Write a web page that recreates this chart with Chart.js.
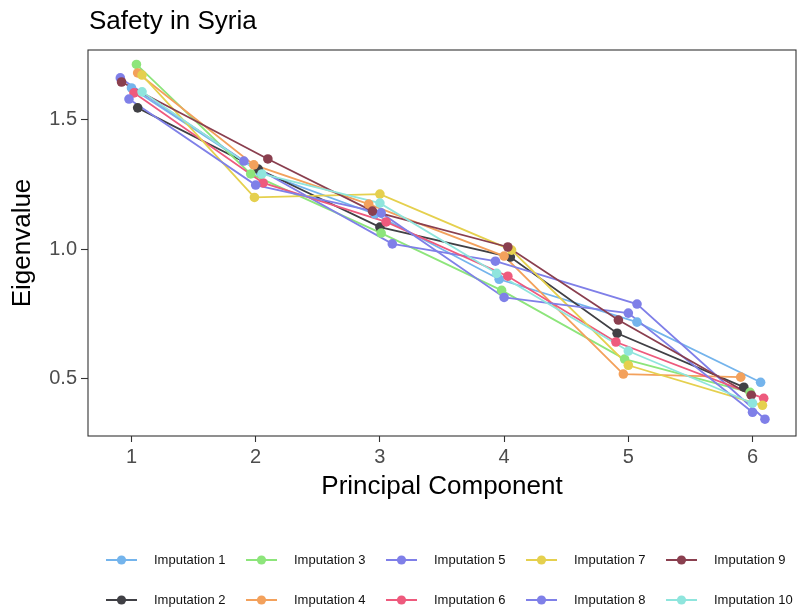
<!DOCTYPE html>
<html>
<head>
<meta charset="utf-8">
<script src="https://cdn.jsdelivr.net/npm/chart.js@4.4.1/dist/chart.umd.min.js"></script>
<style>
  html, body { margin: 0; padding: 0; background: #fff; }
  canvas { display: block; }
</style>
</head>
<body>
<canvas id="chart" width="798" height="614"></canvas>
<script>
const xTicks = [1, 2, 3, 4, 5, 6];
const yTicks = [0.5, 1.0, 1.5];

const labels = ['Imputation 1', 'Imputation 2', 'Imputation 3', 'Imputation 4', 'Imputation 5',
                'Imputation 6', 'Imputation 7', 'Imputation 8', 'Imputation 9', 'Imputation 10'];
const colors = ['#74b4ec', '#404045', '#8de57b', '#f3a15c', '#7f7fe8',
                '#ee5a7d', '#e5d04e', '#7f80e8', '#8a3f4f', '#8fe5dd'];

// eigenvalue per principal component, and the jittered x position
const eig1  = [1.624, 1.300, 1.136, 0.883, 0.717, 0.484];
const pos1  = [1.00, 2.03, 2.96, 3.96, 5.07, 6.065];
const eig2  = [1.547, 1.310, 1.085, 0.969, 0.674, 0.465];
const pos2  = [1.05, 2.02, 3.00, 4.05, 4.91, 5.93];
const eig3  = [1.715, 1.291, 1.062, 0.840, 0.574, 0.445];
const pos3  = [1.04, 1.96, 3.01, 3.98, 4.97, 5.98];
const eig4  = [1.682, 1.326, 1.174, 0.973, 0.516, 0.504];
const pos4  = [1.05, 1.985, 2.91, 4.00, 4.96, 5.905];
const eig5  = [1.663, 1.341, 1.020, 0.953, 0.787, 0.341];
const pos5  = [0.91, 1.905, 3.10, 3.93, 5.07, 6.10];
const eig6  = [1.605, 1.256, 1.105, 0.895, 0.640, 0.422];
const pos6  = [1.02, 2.06, 3.05, 4.03, 4.90, 6.09];
const eig7  = [1.674, 1.200, 1.213, 0.996, 0.550, 0.395];
const pos7  = [1.085, 1.99, 3.00, 4.06, 5.00, 6.08];
const eig8  = [1.581, 1.248, 1.140, 0.8125, 0.752, 0.368];
const pos8  = [0.98, 2.00, 3.01, 4.00, 5.00, 6.00];
const eig9  = [1.647, 1.349, 1.147, 1.008, 0.725, 0.434];
const pos9  = [0.92, 2.098, 2.94, 4.03, 4.92, 5.99];
const eig10 = [1.609, 1.291, 1.178, 0.906, 0.605, 0.403];
const pos10 = [1.085, 2.05, 3.00, 3.94, 5.00, 6.00];

const eigenvalues = [eig1, eig2, eig3, eig4, eig5, eig6, eig7, eig8, eig9, eig10];
const positions = [pos1, pos2, pos3, pos4, pos5, pos6, pos7, pos8, pos9, pos10];

Chart.defaults.font.family = "'Liberation Sans', Arial, sans-serif";

const datasets = [];
eigenvalues.forEach((vals, i) => {
  const pts = vals.map((v, k) => ({x: positions[i][k], y: v}));
  datasets.push({
    label: labels[i],
    data: pts,
    showLine: true,
    borderColor: colors[i],
    borderWidth: 1.8,
    pointRadius: 0,
    order: 100 - i
  });
  datasets.push({
    label: labels[i] + ' points',
    data: pts,
    showLine: false,
    backgroundColor: colors[i],
    borderWidth: 0,
    pointRadius: 4.8,
    order: 50 - i
  });
});

const frame = {
  id: 'frame',
  afterDraw(chart) {
    const {ctx, chartArea: a} = chart;
    ctx.save();
    ctx.strokeStyle = '#333333';
    ctx.lineWidth = 1.1;
    ctx.strokeRect(a.left, a.top, a.right - a.left, a.bottom - a.top);

    // title
    ctx.fillStyle = '#000';
    ctx.font = "26px 'Liberation Sans', Arial, sans-serif";
    ctx.textBaseline = 'alphabetic';
    ctx.textAlign = 'left';
    ctx.fillText('Safety in Syria', 89, 29);

    // legend, filled column by column
    ctx.font = "13px 'Liberation Sans', Arial, sans-serif";
    ctx.textBaseline = 'middle';
    for (let i = 0; i < labels.length; i++) {
      const col = Math.floor(i / 2), row = i % 2;
      const x = 106 + col * 140;
      const y = row === 0 ? 560 : 600;
      ctx.strokeStyle = colors[i];
      ctx.lineWidth = 2;
      ctx.beginPath();
      ctx.moveTo(x, y);
      ctx.lineTo(x + 31, y);
      ctx.stroke();
      ctx.fillStyle = colors[i];
      ctx.beginPath();
      ctx.arc(x + 15.5, y, 4.6, 0, Math.PI * 2);
      ctx.fill();
      ctx.fillStyle = '#111';
      ctx.fillText(labels[i], x + 48, y);
    }
    ctx.restore();
  }
};

new Chart(document.getElementById('chart').getContext('2d'), {
  type: 'scatter',
  data: { datasets: datasets },
  options: {
    responsive: false,
    animation: false,
    layout: { autoPadding: false, padding: { top: 50, left: 0, right: 2, bottom: 108 } },
    plugins: {
      legend: { display: false },
      tooltip: { enabled: false },
      title: { display: false }
    },
    scales: {
      x: {
        type: 'linear',
        min: 0.65,
        max: 6.35,
        afterBuildTicks: s => { s.ticks = xTicks.map(v => ({value: v})); },
        afterFit: s => { s.height = 70; },
        ticks: {
          color: '#4d4d4d',
          font: { size: 20 },
          padding: 3,
          callback: v => String(v)
        },
        grid: { drawOnChartArea: false, drawTicks: true, tickLength: 6, tickColor: '#333333', tickWidth: 1.1 },
        border: { display: false },
        title: {
          display: true,
          text: 'Principal Component',
          color: '#000',
          font: { size: 26 },
          padding: { top: 0, bottom: 3.5 }
        }
      },
      y: {
        type: 'linear',
        min: 0.276,
        max: 1.771,
        afterBuildTicks: s => { s.ticks = yTicks.map(v => ({value: v})); },
        afterFit: s => { s.width = 88; },
        ticks: {
          color: '#4d4d4d',
          font: { size: 20 },
          padding: 4,
          callback: v => v.toFixed(1)
        },
        grid: { drawOnChartArea: false, drawTicks: true, tickLength: 7, tickColor: '#333333', tickWidth: 1.1 },
        border: { display: false },
        title: {
          display: true,
          text: 'Eigenvalue',
          color: '#000',
          font: { size: 26 },
          padding: { top: 7.5, bottom: 0 }
        }
      }
    }
  },
  plugins: [frame]
});
</script>
</body>
</html>
